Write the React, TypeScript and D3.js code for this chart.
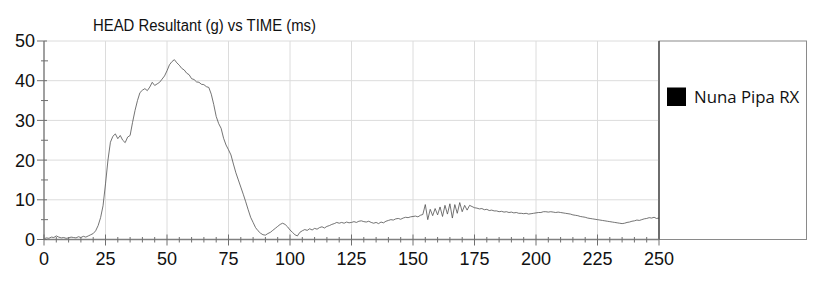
import React from "react";
import * as d3 from "d3";

const TITLE = "HEAD Resultant (g) vs TIME (ms)";
const SERIES_NAME = "Nuna Pipa RX";
const X_TICKS = [0, 25, 50, 75, 100, 125, 150, 175, 200, 225, 250];
const Y_TICKS = [0, 10, 20, 30, 40, 50];

// Head resultant acceleration (g), sampled every 1 ms from 0 to 250 ms
const HEAD_G = [
  0.2, 0.4, 0.3, 0.6, 0.5, 0.9, 0.6, 0.4, 0.5, 0.3,
  0.4, 0.6, 0.5, 0.4, 0.7, 0.5, 0.8, 0.6, 0.9, 1.2,
  1.5, 2.2, 3.5, 5.5, 8.5, 14.0, 20.0, 24.5, 26.0, 26.6,
  25.4, 26.2, 25.0, 24.4, 25.8, 26.2, 29.5, 32.5, 35.0, 37.0,
  37.6, 38.0, 37.5, 38.4, 39.6, 38.8, 39.2, 39.6, 40.4, 41.2,
  42.5, 44.0, 44.8, 45.3, 44.5, 43.9, 43.1, 42.7, 41.9, 41.5,
  40.5, 40.3, 39.7, 39.6, 39.1, 39.0, 38.5, 38.3, 36.6, 34.0,
  31.0, 29.2, 28.0, 25.5, 23.8, 22.6, 21.3, 19.0, 16.8, 15.0,
  13.2, 11.4, 9.5, 7.5, 5.6, 4.3, 3.0, 2.2, 1.6, 1.2,
  1.1, 1.5, 1.8, 2.3, 2.8, 3.3, 3.8, 4.1, 3.8, 3.2,
  2.4, 1.8, 1.2, 0.9, 1.8, 2.2, 2.5, 2.3, 2.7, 2.4,
  2.8, 2.6, 3.0, 3.2, 2.9, 3.3, 3.5, 3.8, 4.0, 4.3,
  4.1, 4.3, 4.1, 4.4, 4.2, 4.3, 4.5, 4.3, 4.6, 4.7,
  4.5, 4.4, 4.6, 4.3, 4.1, 4.3, 4.0, 4.4, 4.2, 4.6,
  4.8, 5.0, 4.9, 5.2, 5.3, 5.1, 5.4, 5.6, 5.5, 5.7,
  5.8, 5.9, 5.7, 6.1, 6.3, 8.8, 5.0, 7.6, 6.0, 7.8,
  6.2, 8.2, 5.8, 8.6, 6.4, 9.0, 5.4, 8.8, 6.6, 9.3,
  7.0, 8.6, 7.4, 8.6, 8.3, 8.0, 7.9, 7.7, 7.8, 7.5,
  7.6, 7.3, 7.4, 7.2, 7.2, 7.0, 7.1, 6.9, 7.0, 6.8,
  6.9, 6.7, 6.8, 6.6, 6.6, 6.5, 6.6, 6.4, 6.5, 6.6,
  6.7, 6.8, 6.8, 7.0, 7.0, 6.9, 7.0, 6.9, 6.8, 6.9,
  6.8, 6.7, 6.6, 6.5, 6.4, 6.2, 6.1, 6.0, 5.8, 5.7,
  5.6, 5.4, 5.3, 5.2, 5.1, 5.0, 4.9, 4.8, 4.7, 4.6,
  4.5, 4.4, 4.3, 4.2, 4.1, 4.0, 4.1, 4.3, 4.4, 4.6,
  4.7, 4.9, 4.8, 5.0, 5.2, 5.3, 5.5, 5.4, 5.6, 5.3,
  5.4,
];

const W = 830;
const H = 288;
const M = { left: 44, right: 659, top: 41, bottom: 239.5 };
const LEGEND_RIGHT = 806.5;

export default function App() {
  const x = d3.scaleLinear().domain([0, 250]).range([M.left, M.right]);
  const y = d3.scaleLinear().domain([0, 50]).range([M.bottom, M.top]);
  const minorX = d3.range(0, 251, 5).filter((v) => v % 25 !== 0);
  const minorY = d3.range(0, 51, 5).filter((v) => v % 10 !== 0);
  const line = d3
    .line<number>()
    .x((_, i) => x(i))
    .y((d) => y(d));

  const font = "'Liberation Sans', Arial, sans-serif";

  return (
    <svg
      width={W}
      height={H}
      style={{ position: "absolute", left: 0, top: 0, background: "#fff" }}
    >
      <rect x={0} y={0} width={W} height={H} fill="#fff" />
      {/* legend box */}
      <rect
        x={M.right}
        y={M.top}
        width={LEGEND_RIGHT - M.right}
        height={M.bottom - M.top}
        fill="#fff"
        stroke="#8a8a8a"
        strokeWidth={1}
      />
      {/* grid */}
      {X_TICKS.filter((t) => t > 0 && t < 250).map((t) => (
        <line
          key={"gx" + t}
          x1={x(t)}
          x2={x(t)}
          y1={M.top}
          y2={M.bottom}
          stroke="#dcdcdc"
          strokeWidth={1}
        />
      ))}
      {Y_TICKS.filter((t) => t > 0).map((t) => (
        <line
          key={"gy" + t}
          x1={M.left}
          x2={M.right}
          y1={y(t)}
          y2={y(t)}
          stroke="#dcdcdc"
          strokeWidth={1}
        />
      ))}
      {/* data line */}
      <path
        d={line(HEAD_G) || ""}
        fill="none"
        stroke="#505050"
        strokeWidth={0.8}
        strokeLinejoin="round"
      />
      {/* right border */}
      <line x1={M.right} x2={M.right} y1={M.top} y2={M.bottom} stroke="#333" strokeWidth={1.2} />
      {/* axes */}
      <line x1={M.left} x2={M.left} y1={M.top} y2={M.bottom} stroke="#808080" strokeWidth={1.5} />
      <line x1={M.left} x2={M.right} y1={M.bottom} y2={M.bottom} stroke="#808080" strokeWidth={1.5} />
      {Y_TICKS.map((t) => (
        <line key={"ty" + t} x1={M.left - 7} x2={M.left + 3} y1={y(t)} y2={y(t)} stroke="#707070" strokeWidth={1} />
      ))}
      {minorY.map((t) => (
        <line key={"my" + t} x1={M.left - 3} x2={M.left + 4} y1={y(t)} y2={y(t)} stroke="#707070" strokeWidth={1} />
      ))}
      {X_TICKS.map((t) => (
        <line key={"tx" + t} x1={x(t)} x2={x(t)} y1={M.bottom - 5} y2={M.bottom + 6} stroke="#707070" strokeWidth={1} />
      ))}
      {minorX.map((t) => (
        <line key={"mx" + t} x1={x(t)} x2={x(t)} y1={M.bottom - 2.5} y2={M.bottom + 3} stroke="#707070" strokeWidth={1} />
      ))}
      {/* tick labels */}
      {Y_TICKS.map((t) => (
        <text
          key={"ly" + t}
          x={35}
          y={y(t)}
          dy="0.36em"
          textAnchor="end"
          fontFamily={font}
          fontSize={18}
          fill="#111"
        >
          {t}
        </text>
      ))}
      {X_TICKS.map((t) => (
        <text
          key={"lx" + t}
          x={x(t)}
          y={265}
          textAnchor="middle"
          fontFamily={font}
          fontSize={18}
          fill="#111"
        >
          {t}
        </text>
      ))}
      {/* title */}
      <text x={93} y={31} fontFamily={font} fontSize={16} fill="#111" textLength={223} lengthAdjust="spacingAndGlyphs">
        {TITLE}
      </text>
      {/* legend */}
      <rect x={667} y={87.5} width={19} height={18.5} fill="#000" />
      <text x={694} y={103} fontFamily="'Open Sans', sans-serif" fontSize={16.8} fill="#111">
        {SERIES_NAME}
      </text>
    </svg>
  );
}
